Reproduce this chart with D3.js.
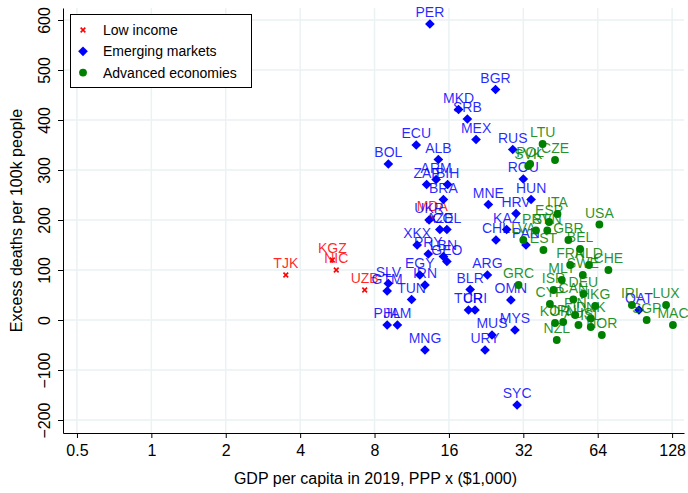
<!DOCTYPE html>
<html><head><meta charset="utf-8">
<script src="https://cdn.jsdelivr.net/npm/d3@7"></script>
<style>body{margin:0;background:#fff}svg{display:block;font-family:"Liberation Sans",Arial,sans-serif}</style>
</head><body>
<svg id="c" width="688" height="493"></svg>
<script>
const xTicks = [0.5, 1, 2, 4, 8, 16, 32, 64, 128];
const xTickLabels = ["0.5", "1", "2", "4", "8", "16", "32", "64", "128"];
const yTicks = [-200, -100, 0, 100, 200, 300, 400, 500, 600];

const lowCodes  = ["TJK","KGZ","NIC","UZB","MDA"];
const lowGdp    = [3.5, 5.4, 5.6, 7.3, 13.7];
const lowDeaths = [90, 120, 100, 60, 204];

const emCodes  = ["PER","BGR","MKD","SRB","MEX","ECU","BOL","ALB","RUS","ROU","ARM","ZAF","BIH","BRA","MNE","HUN","HRV","UKR","AZE","COL","KAZ","CHL","PAN","XKX","PRY","LBN","GEO","EGY","IRN","ARG","SLV","GTM","TUN","BLR","TUR","CRI","OMN","PHL","JAM","MNG","MUS","URY","MYS","SYC","QAT"];
const emGdp    = [13.4,24.7,17.5,19.0,20.6,11.8,9.1,14.5,29.0,32.0,14.2,13.0,15.8,15.2,23.1,34.4,29.9,13.3,14.7,15.7,27.4,24.8,32.8,11.9,13.2,15.2,15.7,12.2,12.8,22.9,9.1,9.0,11.3,19.5,19.2,20.4,28.5,9.0,9.9,12.8,23.9,22.4,29.6,30.2,94];
const emDeaths = [592,461,421,402,361,350,312,321,341,282,281,271,271,241,231,241,213,200,181,181,181,160,150,150,132,127,117,90,70,90,73,58,41,61,20,20,40,-10,-10,-60,-30,-60,-20,-170,20];

const advCodes  = ["LTU","CZE","POL","SVK","ITA","ESP","PRT","SVN","LVA","GBR","EST","BEL","USA","FRA","NLD","SWE","CHE","MLT","ISR","DEU","CAN","CYP","HKG","FIN","KOR","JPN","AUS","DNK","ISL","NZL","NOR","GRC","IRL","SGP","LUX","MAC"];
const advGdp    = [38.3,43,34.1,33.5,44,40.7,36,40,32,48.7,38.6,54.3,65,49.5,59,55.7,70.7,45.8,42.4,56,51,41,62.5,51.9,43,46.4,53.5,60,60,43.7,66.5,30.6,88,101,121,129];
const advDeaths = [352,320,312,308,212,196,179,179,160,160,140,142,191,110,110,90,100,80,60,52,41,32,28,10,-6,-4,-10,3,-14,-40,-30,70,30,0,30,-10];

const legendLabels = ["Low income", "Emerging markets", "Advanced economies"];
const colors = {low: "#ff0000", em: "#0000ff", adv: "#008000"};

(function () {
const svg = d3.select("#c");
const pL = 63, pR = 684, pT = 8, pB = 433;
const x = d3.scaleLog().base(2).domain([0.439, 143]).range([pL, pR]);
const y = d3.scaleLinear().domain([-226, 624]).range([pB, pT]);

const grid = svg.append("g");
grid.selectAll("line.v").data(xTicks).join("line").attr("class", "v")
  .attr("x1", d => x(d)).attr("x2", d => x(d)).attr("y1", pT).attr("y2", pB)
  .attr("stroke", "#eaf2f3").attr("stroke-width", 1.5);
grid.selectAll("line.h").data(yTicks).join("line").attr("class", "h")
  .attr("x1", pL).attr("x2", pR).attr("y1", d => y(d)).attr("y2", d => y(d))
  .attr("stroke", "#eaf2f3").attr("stroke-width", 1.5);

const xAxis = svg.append("g").attr("transform", `translate(0,${pB})`)
  .call(d3.axisBottom(x).tickValues(xTicks).tickFormat((d, i) => xTickLabels[i]).tickSize(5).tickSizeOuter(0));
xAxis.selectAll("text").attr("font-size", 16).attr("fill", "#000").attr("dy", "0.95em").style("font-family", "Liberation Sans, Arial, sans-serif");
xAxis.selectAll("line").attr("stroke", "#000");
xAxis.select(".domain").attr("stroke", "#000");

const yAxis = svg.append("g").attr("transform", `translate(${pL},0)`)
  .call(d3.axisLeft(y).tickValues(yTicks).tickSize(5).tickSizeOuter(0));
yAxis.selectAll("line").attr("stroke", "#000");
yAxis.select(".domain").attr("stroke", "#000");
yAxis.selectAll("text").attr("font-size", 16).attr("fill", "#000")
  .style("font-family", "Liberation Sans, Arial, sans-serif")
  .attr("x", null).attr("dy", null).attr("y", null)
  .attr("text-anchor", "middle")
  .attr("transform", "translate(-13,0) rotate(-90)");

svg.append("text").attr("x", (pL + pR) / 2 + 2).attr("y", 484).attr("text-anchor", "middle")
  .attr("font-size", 16).text("GDP per capita in 2019, PPP x ($1,000)");
svg.append("text").attr("transform", `translate(22,${(pT + pB) / 2}) rotate(-90)`).attr("text-anchor", "middle")
  .attr("font-size", 16).text("Excess deaths per 100k people");

const diamond = d3.symbol().type(d3.symbolDiamond2).size(60);
const circ = d3.symbol().type(d3.symbolCircle).size(48);
const cross = d3.symbol().type(d3.symbolX).size(16);

function series(codes, gdp, deaths, color, sym, cls) {
  const data = codes.map((c, i) => ({c, g: gdp[i], v: deaths[i]}));
  const g = svg.append("g");
  g.selectAll("path").data(data).join("path")
    .attr("transform", d => `translate(${x(d.g)},${y(d.v)})`)
    .attr("d", sym)
    .attr("fill", cls === "low" ? "none" : color)
    .attr("stroke", cls === "low" ? color : "none")
    .attr("stroke-width", 1.6);
  g.selectAll("text").data(data).join("text")
    .attr("x", d => x(d.g)).attr("y", d => y(d.v) - 7)
    .attr("text-anchor", "middle").attr("font-size", 14)
    .attr("fill", color).attr("fill-opacity", 0.85)
    .text(d => d.c);
}
series(lowCodes, lowGdp, lowDeaths, colors.low, cross, "low");
series(emCodes, emGdp, emDeaths, colors.em, diamond, "em");
series(advCodes, advGdp, advDeaths, colors.adv, circ, "adv");

const lg = svg.append("g");
lg.append("rect").attr("x", 70.5).attr("y", 14.5).attr("width", 181).attr("height", 73)
  .attr("fill", "#fff").attr("stroke", "#000").attr("stroke-width", 1);
const lsyms = [[cross, colors.low, "low"], [diamond, colors.em, "em"], [circ, colors.adv, "adv"]];
legendLabels.forEach((t, i) => {
  const yy = 30 + i * 21.3;
  lg.append("path").attr("transform", `translate(83,${yy})`).attr("d", lsyms[i][0])
    .attr("fill", lsyms[i][2] === "low" ? "none" : lsyms[i][1])
    .attr("stroke", lsyms[i][2] === "low" ? lsyms[i][1] : "none").attr("stroke-width", 1.6);
  lg.append("text").attr("x", 103).attr("y", yy + 5).attr("font-size", 14).text(t);
});
})();
</script>
</body></html>
